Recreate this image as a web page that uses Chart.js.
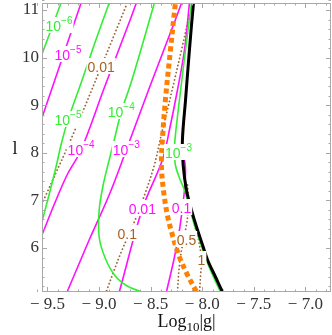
<!DOCTYPE html>
<html>
<head>
<meta charset="utf-8">
<script src="https://cdn.jsdelivr.net/npm/chart.js@4.4.0/dist/chart.umd.min.js"></script>
<style>
  html, body { margin: 0; padding: 0; background: #fff; }
</style>
</head>
<body>
<canvas id="plot" width="332" height="335"></canvas>
<script>
// axis ranges and tick labels
const xRange = [-9.553, -6.752];
const yRange = [5.076, 11.147];
const xTickValues = [-9.5, -9.0, -8.5, -8.0, -7.5, -7.0];
const yTickValues = [6, 7, 8, 9, 10, 11];

// contour lines, [log10|g|, l]
const green1e6 = [[-9.369, 11.147], [-9.466, 10.58], [-9.563, 10.013], [-9.631, 9.613]];
const green1e5 = [[-8.902, 11.147], [-9.048, 10.265], [-9.164, 9.529], [-9.301, 8.689], [-9.369, 8.164],
  [-9.408, 7.786], [-9.485, 7.113], [-9.554, 6.546], [-9.622, 5.958], [-9.602, 5.433], [-9.515, 4.908]];
const green1e4 = [[-8.464, 11.147], [-8.581, 10.265], [-8.697, 9.424], [-8.785, 8.857], [-8.853, 8.269],
  [-8.902, 7.849], [-8.96, 7.324], [-8.999, 6.798], [-8.999, 6.231], [-8.941, 5.79], [-8.843, 5.412],
  [-8.727, 5.202], [-8.581, 5.076], [-8.5, 5.05]];
const green1e3 = [[-8.104, 11.147], [-8.162, 10.16], [-8.221, 9.109], [-8.26, 8.374], [-8.269, 8.059],
  [-8.26, 7.744], [-8.221, 7.471], [-8.172, 7.218], [-8.124, 6.84], [-8.075, 6.483], [-8.017, 6.105],
  [-7.968, 5.79], [-7.9, 5.433], [-7.822, 5.076], [-7.773, 4.908]];

const magenta1e5 = [[-9.174, 11.147], [-9.364, 9.939], [-9.554, 8.731], [-9.631, 8.235]];
const magenta1e4 = [[-8.639, 11.147], [-8.688, 10.853], [-8.95, 9.361], [-9.174, 8.059], [-9.31, 7.534],
  [-9.437, 6.903], [-9.554, 6.273], [-9.68, 5.643]];
const magenta1e3 = [[-8.201, 11.147], [-8.25, 10.853], [-8.513, 9.361], [-8.736, 8.059], [-8.902, 7.113],
  [-9.096, 6.168], [-9.31, 5.076], [-9.35, 4.9]];
const magenta1e2 = [[-8.124, 11.147], [-8.172, 10.16], [-8.24, 9.319], [-8.318, 8.479], [-8.386, 7.849],
  [-8.581, 6.819], [-8.804, 5.076], [-8.83, 4.9]];
const magenta1e1 = [[-8.172, 7.849], [-8.162, 7.639], [-8.172, 7.218], [-8.192, 6.84], [-8.221, 6.378],
  [-8.269, 5.811], [-8.347, 5.076], [-8.36, 4.95]];

const brown001 = [[-8.727, 11.147], [-8.98, 9.803], [-9.242, 8.437], [-9.515, 7.113], [-9.602, 6.693]];
const brown01 = [[-8.124, 10.895], [-8.201, 10.16], [-8.269, 9.529], [-8.338, 8.899], [-8.397, 8.374],
  [-8.464, 7.744], [-8.542, 7.218], [-8.639, 6.651], [-8.785, 5.916], [-8.853, 5.538], [-8.931, 5.076], [-8.95, 4.95]];
const brown05 = [[-8.143, 7.324], [-8.133, 6.903], [-8.153, 6.483], [-8.192, 6.063], [-8.221, 5.643],
  [-8.24, 5.076], [-8.242, 4.95]];
const brown1 = [[-8.075, 6.483], [-8.036, 6.168], [-8.007, 5.748], [-8.016, 5.433], [-8.026, 5.076], [-8.027, 4.95]];

const orangeLine = [[-8.25, 11.3], [-8.26, 11.147], [-8.308, 10.16], [-8.357, 9.109], [-8.386, 8.269],
  [-8.396, 7.744], [-8.376, 7.218], [-8.338, 6.693], [-8.289, 6.273], [-8.221, 5.811], [-8.143, 5.433],
  [-8.055, 5.076], [-8.03, 4.95]];
const blackLine = [[-8.075, 11.31], [-8.085, 11.147], [-8.124, 10.16], [-8.162, 9.109], [-8.192, 8.269],
  [-8.185, 7.744], [-8.153, 7.218], [-8.104, 6.798], [-8.055, 6.441], [-7.997, 6.063], [-7.948, 5.748],
  [-7.871, 5.391], [-7.803, 5.076], [-7.754, 4.908]];

// contour labels
const labelText = ["10^-6", "10^-5", "0.01", "10^-5", "10^-4", "10^-4", "10^-3", "10^-3", "0.01", "0.1", "0.1", "0.5", "1"];
const labelX = [-9.388, -9.301, -8.98, -9.301, -8.785, -9.174, -8.736, -8.23, -8.581, -8.727, -8.201, -8.153, -8.007];
const labelY = [10.664, 10.055, 9.803, 8.689, 8.857, 8.059, 8.059, 7.996, 6.819, 6.294, 6.84, 6.168, 5.748];
const labelKind = ["g", "m", "b", "g", "g", "m", "m", "g", "m", "b", "m", "b", "b"];

const colors = { g: "#33ee33", m: "#ff10ff", b: "#9a6633", o: "#ff8000", k: "#000000" };
const labelColors = { g: "#33ee33", m: "#ff10ff", b: "#a8621f" };

function pts(arr) {
  return arr.map((p) => ({ x: p[0], y: p[1] }));
}

function solid(arr, color, width, order) {
  return { data: pts(arr), borderColor: color, borderWidth: width, order, showLine: true,
    pointRadius: 0, tension: 0.35, clip: 0, fill: false };
}

function dotted(arr) {
  const d = solid(arr, colors.b, 1.8, 5);
  d.borderDash = [0.1, 3.6];
  d.borderCapStyle = "round";
  return d;
}

const orange = solid(orangeLine, colors.o, 5, 0);
orange.borderDash = [5, 3.5];

const datasets = [
  orange,
  solid(blackLine, colors.k, 3, 1),
  solid(green1e6, colors.g, 1.6, 3), solid(green1e5, colors.g, 1.6, 3),
  solid(green1e4, colors.g, 1.6, 3), solid(green1e3, colors.g, 1.6, 3),
  solid(magenta1e5, colors.m, 1.6, 4), solid(magenta1e4, colors.m, 1.6, 4),
  solid(magenta1e3, colors.m, 1.6, 4), solid(magenta1e2, colors.m, 1.6, 4),
  solid(magenta1e1, colors.m, 1.6, 4),
  dotted(brown001), dotted(brown01), dotted(brown05), dotted(brown1),
];

function fmt(v) {
  if (v < 0) return "\u2212 " + Math.abs(v).toFixed(1);
  return String(v);
}

const decorate = {
  id: "decorate",
  afterDatasetsDraw(chart) {
    const ctx = chart.ctx;
    const xs = chart.scales.x;
    const ys = chart.scales.y;
    ctx.save();
    ctx.textBaseline = "alphabetic";
    labelText.forEach((t, i) => {
      const parts = t.split("^");
      const base = parts[0];
      const exp = parts[1] ? parts[1].replace("-", "\u2212") : "";
      ctx.font = "14px 'Liberation Sans'";
      const wb = ctx.measureText(base).width;
      ctx.font = "10px 'Liberation Sans'";
      const we = exp ? ctx.measureText(exp).width : 0;
      const w = wb + we;
      const cx = xs.getPixelForValue(labelX[i]);
      const cy = ys.getPixelForValue(labelY[i]);
      ctx.fillStyle = "#fff";
      ctx.fillRect(cx - w / 2 - 1, cy - 9, w + 2, 16);
      ctx.fillStyle = labelColors[labelKind[i]];
      ctx.font = "14px 'Liberation Sans'";
      ctx.fillText(base, cx - w / 2, cy + 5);
      if (exp) {
        ctx.font = "10px 'Liberation Sans'";
        ctx.fillText(exp, cx - w / 2 + wb, cy - 2);
      }
    });
    ctx.restore();
  },
  afterDraw(chart) {
    const ctx = chart.ctx;
    const a = chart.chartArea;
    const xs = chart.scales.x;
    const ys = chart.scales.y;
    ctx.save();
    ctx.strokeStyle = "#a8a8a8";
    ctx.lineWidth = 1;
    ctx.strokeRect(a.left + 0.5, a.top + 0.5, a.right - a.left - 1, a.bottom - a.top - 1);
    ctx.beginPath();
    for (let k = -96; k <= -67; k++) {
      const v = k / 10;
      const px = Math.round(xs.getPixelForValue(v)) + 0.5;
      const len = k % 5 === 0 ? 5 : 2.5;
      ctx.moveTo(px, a.bottom); ctx.lineTo(px, a.bottom - len);
      ctx.moveTo(px, a.top); ctx.lineTo(px, a.top + len);
    }
    for (let k = 26; k <= 56; k++) {
      const v = k / 5;
      const py = Math.round(ys.getPixelForValue(v)) + 0.5;
      const len = k % 5 === 0 ? 5 : 2.5;
      ctx.moveTo(a.left, py); ctx.lineTo(a.left + len, py);
      ctx.moveTo(a.right, py); ctx.lineTo(a.right - len, py);
    }
    ctx.stroke();

    // axis titles
    ctx.fillStyle = "#111";
    ctx.textBaseline = "alphabetic";
    ctx.font = "18px 'Liberation Serif'";
    const w1 = ctx.measureText("Log").width;
    const w3 = ctx.measureText("|g|").width;
    ctx.font = "13px 'Liberation Serif'";
    const w2 = ctx.measureText("10").width;
    const cx = (a.left + a.right) / 2;
    let x0 = cx - (w1 + w2 + w3) / 2;
    ctx.font = "18px 'Liberation Serif'";
    ctx.fillText("Log", x0, 327);
    ctx.font = "13px 'Liberation Serif'";
    ctx.fillText("10", x0 + w1, 331);
    ctx.font = "18px 'Liberation Serif'";
    ctx.fillText("|g|", x0 + w1 + w2, 327);
    ctx.textAlign = "center";
    ctx.fillText("l", 15, 154);
    ctx.restore();
  },
};

const tickFont = { family: "'Liberation Serif'", size: 17 };

new Chart(document.getElementById("plot"), {
  type: "scatter",
  data: { datasets },
  options: {
    responsive: false,
    animation: false,
    layout: { padding: { top: 3, right: 1, left: 0, bottom: 0 } },
    plugins: { legend: { display: false }, tooltip: { enabled: false } },
    scales: {
      x: {
        type: "linear", min: xRange[0], max: xRange[1],
        grid: { display: false, drawTicks: false }, border: { display: false },
        ticks: { font: tickFont, color: "#333", padding: 2, maxRotation: 0, autoSkip: false, callback: fmt },
        afterBuildTicks: (s) => { s.ticks = xTickValues.map((v) => ({ value: v })); },
        afterFit: (s) => { s.height = 43; s.paddingLeft = 0; s.paddingRight = 0; },
      },
      y: {
        type: "linear", min: yRange[0], max: yRange[1],
        grid: { display: false, drawTicks: false }, border: { display: false },
        ticks: { font: tickFont, color: "#333", padding: 3, autoSkip: false, callback: fmt },
        afterBuildTicks: (s) => { s.ticks = yTickValues.map((v) => ({ value: v })); },
        afterFit: (s) => { s.width = 42; s.paddingTop = 0; s.paddingBottom = 0; },
      },
    },
  },
  plugins: [decorate],
});
</script>
</body>
</html>
